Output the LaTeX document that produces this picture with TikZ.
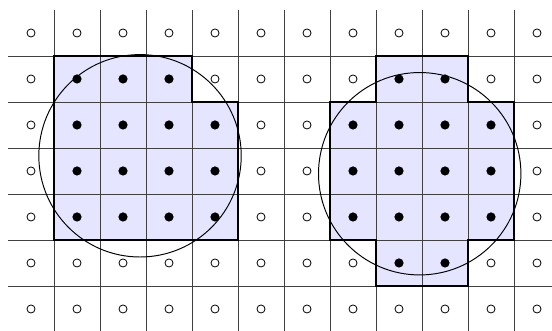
\documentclass[tikz,border=0pt]{standalone}
\begin{document}
\begin{tikzpicture}[x=1cm,y=-1cm,
  gridline/.style={black!75,line width=0.5pt},
  region/.style={fill=blue!10,draw=black,line width=0.9pt},
  disk/.style={black,line width=0.6pt},
  inpt/.style={circle,fill=black,inner sep=0pt,minimum size=0.2cm},
  outpt/.style={circle,draw=black,line width=0.5pt,inner sep=0pt,minimum size=0.175cm}]
\useasboundingbox (-0.674,-0.717) rectangle (11.326,6.478);
\begin{scope}
\clip (-0.674,-0.717) rectangle (11.326,6.478);
% shaded regions
\filldraw[region] (0.5,0.5) -- (3.5,0.5) -- (3.5,1.5) -- (4.5,1.5) -- (4.5,4.5) -- (0.5,4.5) -- cycle;
\filldraw[region] (7.5,0.5) -- (9.5,0.5) -- (9.5,1.5) -- (10.5,1.5) -- (10.5,4.5) -- (9.5,4.5) -- (9.5,5.5) -- (7.5,5.5) -- (7.5,4.5) -- (6.5,4.5) -- (6.5,1.5) -- (7.5,1.5) -- cycle;
% grid
\foreach \i in {0,...,10} \draw[gridline] (\i+0.5,-0.5) -- (\i+0.5,6.6);
\foreach \j in {0,...,5} \draw[gridline] (-0.5,\j+0.5) -- (11.6,\j+0.5);
% redraw region borders
\draw[black,line width=0.9pt] (0.5,0.5) -- (3.5,0.5) -- (3.5,1.5) -- (4.5,1.5) -- (4.5,4.5) -- (0.5,4.5) -- cycle;
\draw[black,line width=0.9pt] (7.5,0.5) -- (9.5,0.5) -- (9.5,1.5) -- (10.5,1.5) -- (10.5,4.5) -- (9.5,4.5) -- (9.5,5.5) -- (7.5,5.5) -- (7.5,4.5) -- (6.5,4.5) -- (6.5,1.5) -- (7.5,1.5) -- cycle;
% circles
\draw[disk] (2.37,2.67) circle (2.2);
\draw[disk] (8.45,3.06) circle (2.2);
\end{scope}
% points
\foreach \i in {0,...,11} {
  \foreach \j in {0,...,6} {
    \pgfmathtruncatemacro{\inside}{
      ((\i-2.37)^2+(\j-2.67)^2 < 2.2^2) || ((\i-8.45)^2+(\j-3.06)^2 < 2.2^2) ? 1 : 0}
    \ifnum\inside=1
      \node[inpt] (p-\i-\j) at (\i,\j) {};
    \else
      \node[outpt] (p-\i-\j) at (\i,\j) {};
    \fi
  }
}
\end{tikzpicture}
\end{document}
